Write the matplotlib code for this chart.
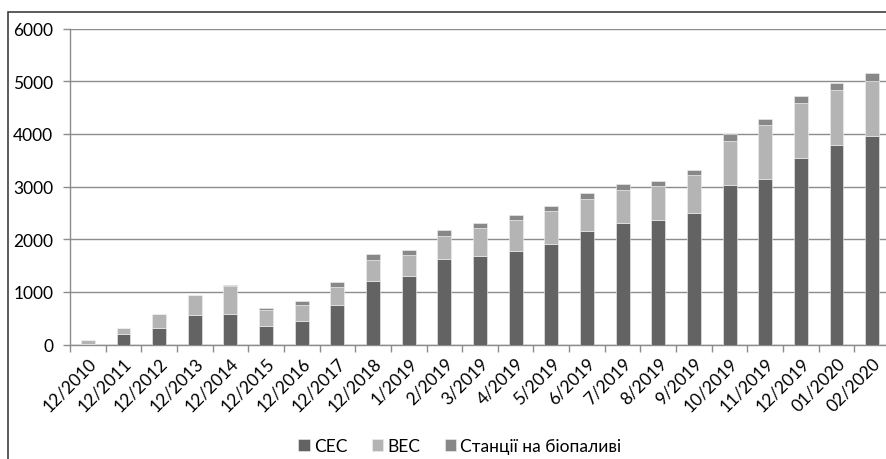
import matplotlib
matplotlib.use("Agg")
import matplotlib.pyplot as plt
from matplotlib.patches import Rectangle
import numpy as np

plt.rcParams['font.family'] = ['Lato', 'DejaVu Sans']

categories = ["12/2010", "12/2011", "12/2012", "12/2013", "12/2014", "12/2015", "12/2016",
              "12/2017", "12/2018", "1/2019", "2/2019", "3/2019", "4/2019", "5/2019", "6/2019",
              "7/2019", "8/2019", "9/2019", "10/2019", "11/2019", "12/2019", "01/2020", "02/2020"]
ses = [3, 190, 313, 554, 580, 357, 452, 756, 1212, 1307, 1630, 1687, 1769, 1915, 2161,
       2313, 2370, 2503, 3035, 3142, 3547, 3794, 3965]
ves = [87, 117, 270, 385, 525, 292, 304, 336, 399, 393, 437, 519, 595, 626, 608,
       627, 633, 715, 829, 1019, 1038, 1044, 1038]
bio = [0, 3, 5, 8, 25, 50, 64, 88, 101, 94, 107, 95, 95, 95, 107,
       107, 107, 101, 126, 120, 133, 133, 146]
series_names = ["СЕС", "ВЕС", "Станції на біопаливі"]
colors = ["#636363", "#b4b4b4", "#888888"]

fig = plt.figure(figsize=(8.86, 4.6), dpi=100)
ax = fig.add_axes([70/886, (460-345.5)/460, (890-70)/886, (345.5-29.5)/460])

x = np.arange(len(categories))
w = 0.39
ses_a = np.array(ses); ves_a = np.array(ves); bio_a = np.array(bio)
ax.bar(x, ses_a, w, color=colors[0], label=series_names[0], zorder=3, edgecolor='#f0f0f0', linewidth=0.4)
ax.bar(x, ves_a, w, bottom=ses_a, color=colors[1], label=series_names[1], zorder=3, edgecolor='#f0f0f0', linewidth=0.4)
ax.bar(x, bio_a, w, bottom=ses_a + ves_a, color=colors[2], label=series_names[2], zorder=3, edgecolor='#f0f0f0', linewidth=0.4)

ax.set_xlim(-0.5, len(categories) - 0.5)
ax.set_ylim(0, 6000)
ax.set_yticks(np.arange(0, 6001, 1000))
ax.yaxis.grid(True, color='#8c8c8c', linewidth=1.0, zorder=0)
ax.set_axisbelow(True)

ax.set_xticks(x)
ax.set_xticklabels(categories, rotation=45, ha='right', rotation_mode='anchor', fontsize=12.5)
ax.set_xticks(np.arange(-0.5, len(categories), 1), minor=True)
ax.tick_params(axis='x', which='major', length=0, pad=7)
ax.tick_params(axis='x', which='minor', length=5, color='#8c8c8c', width=1)
ax.tick_params(axis='y', length=5, color='#8c8c8c', width=1, labelsize=12.5, pad=7)

for s in ['top', 'right']:
    ax.spines[s].set_visible(False)
for s in ['left', 'bottom']:
    ax.spines[s].set_color('#8c8c8c')
    ax.spines[s].set_linewidth(1)

leg = fig.legend(loc='center', bbox_to_anchor=(0.519, 0.028), ncol=3, frameon=False,
                 fontsize=12.5, handlelength=0.65, handleheight=0.65, handletextpad=0.25,
                 columnspacing=1.4)

fig.patches.append(Rectangle((8/886, -0.01), 1.0, (460-13)/460 + 0.01, transform=fig.transFigure,
                             fill=False, edgecolor='#404040', linewidth=1.2))

fig.savefig("out.png", dpi=100)
